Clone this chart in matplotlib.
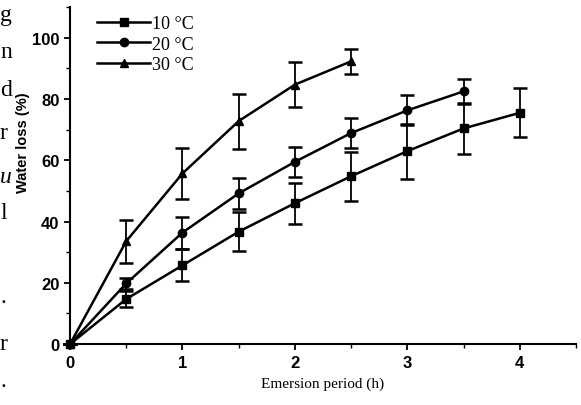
import matplotlib
matplotlib.use('Agg')
import matplotlib.pyplot as plt
from matplotlib.ticker import MultipleLocator
from matplotlib.lines import Line2D

hours = [0, 0.5, 1, 1.5, 2, 2.5, 3, 3.5, 4]

loss_10 = [0, 14.7, 25.7, 36.7, 46, 54.8, 63, 70.4, 75.5]
err_10 = [0, 2.5, 5.2, 6.4, 6.7, 8, 9, 8.4, 8]

loss_20 = [0, 19.8, 36.4, 49.2, 59.5, 68.9, 76.3, 82.5]
err_20 = [0, 1.8, 5.2, 5, 4.9, 5, 4.9, 4]

loss_30 = [0, 33.6, 55.7, 72.8, 84.7, 92.3]
err_30 = [0, 7, 8.4, 9, 7.3, 4]

labels = ['10 \u00b0C', '20 \u00b0C', '30 \u00b0C']

fig = plt.figure(figsize=(5.81, 4.06), dpi=100)
ax = fig.add_axes([0.1205, 0.150, 0.871, 0.830])

series = [(loss_10, err_10, 's'), (loss_20, err_20, 'o'), (loss_30, err_30, '^')]
handles = []
for (vals, errs, mk), lab in zip(series, labels):
    x = hours[:len(vals)]
    ax.errorbar(x, vals, yerr=errs, color='black', lw=1.8, marker=mk, ms=6,
                elinewidth=1.3, capsize=5, capthick=1.8, clip_on=False)
    handles.append(Line2D([], [], color='black', lw=1.8, marker=mk, ms=6, label=lab))

ax.set_xlim(0, 4.5)
ax.set_ylim(0, 110)
ax.xaxis.set_major_locator(MultipleLocator(1))
ax.xaxis.set_minor_locator(MultipleLocator(0.5))
ax.yaxis.set_major_locator(MultipleLocator(20))
ax.yaxis.set_minor_locator(MultipleLocator(10))
for s in ['top', 'right']:
    ax.spines[s].set_visible(False)
for s in ['left', 'bottom']:
    ax.spines[s].set_linewidth(1.5)
ax.tick_params(which='major', direction='out', length=4, width=1.3, labelsize=12)
ax.tick_params(which='minor', direction='out', length=3, width=1.0)
for t in ax.get_xticklabels() + ax.get_yticklabels():
    t.set_fontfamily('Liberation Sans')
    t.set_fontweight('bold')

ax.set_xlabel('Emersion period (h)', family='Liberation Serif', fontsize=11)
ax.xaxis.set_label_coords(0.5, -0.095)
ax.set_ylabel('Water loss (%)', family='Liberation Sans', fontweight='bold', fontsize=10.5)
ax.yaxis.set_label_coords(-0.08, 0.6)

ax.legend(handles=handles, loc='upper left', bbox_to_anchor=(0.022, 1.025), frameon=False,
          prop={'family': 'Liberation Serif', 'size': 13}, handlelength=2.9,
          handletextpad=0.15, labelspacing=0.2)

# bits of the neighbouring page text at the left edge
stray = [('g', 15), ('n', 52), ('d', 90), ('r', 134), ('u', 178), ('l', 214),
         ('.', 298), ('r', 345), ('.', 382)]
for ch, ypix in stray:
    fig.text(0.0, 1 - ypix / 406, ch, family='Liberation Serif', fontsize=17,
             va='center', ha='left', style='italic' if ch == 'u' else 'normal')

fig.savefig('out.png', dpi=100)
